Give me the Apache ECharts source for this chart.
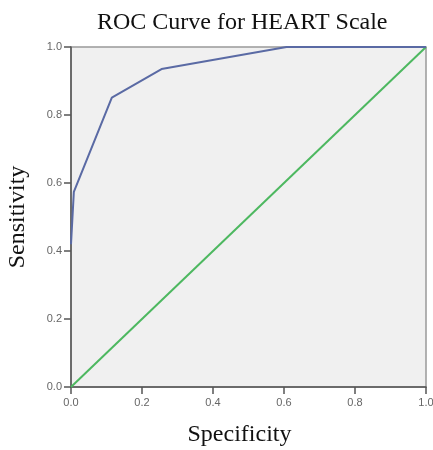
<!DOCTYPE html>
<html>
<head>
<meta charset="utf-8">
<script src="https://cdn.jsdelivr.net/npm/echarts@6/dist/echarts.min.js"></script>
<style>
  html, body { margin: 0; padding: 0; background: #fff; }
  #roc { width: 433px; height: 450px; }
</style>
</head>
<body>
<div id="roc"></div>
<script>
// ROC curve data (1 - specificity on x, sensitivity on y)
var rocX = [0, 0.008, 0.115, 0.255, 0.607, 1.0];
var rocY = [0.42, 0.574, 0.851, 0.935, 1.0, 1.0];
var refX = [0, 1];
var refY = [0, 1];

function pairs(xs, ys) {
	var out = [];
	for (var i = 0; i < xs.length; i++) out.push([xs[i], ys[i]]);
	return out;
}

var myChart = echarts.init(document.getElementById("roc"));

var axisCommon = {
	type : 'value',
	min : 0,
	max : 1,
	interval : 0.2,
	axisLine : { show : true, lineStyle : { color : '#555', width : 1.5 } },
	axisTick : { show : true, length : 7, lineStyle : { color : '#555', width : 1.5 } },
	splitLine : { show : false },
	axisLabel : {
		color : '#666',
		fontSize : 11,
		fontFamily : 'Liberation Sans',
		formatter : function (v) { return v.toFixed(1); }
	},
	nameTextStyle : {
		color : '#111',
		fontSize : 24,
		fontFamily : 'Liberation Serif'
	}
};

var option = {
	title : {
		text : 'ROC Curve for HEART Scale',
		left : 92,
		top : 6,
		textStyle : {
			color : '#111',
			fontSize : 24,
			fontWeight : 'normal',
			fontFamily : 'Liberation Serif'
		}
	},
	grid : {
		left : 71,
		right : 7,
		top : 47,
		bottom : 63,
		outerBoundsMode : 'none',
		show : true,
		backgroundColor : '#f0f0f0',
		borderColor : '#999',
		borderWidth : 1.5
	},
	xAxis : Object.assign({}, axisCommon, {
		name : 'Specificity',
		nameLocation : 'middle',
		nameGap : 36,
		nameTextStyle : Object.assign({}, axisCommon.nameTextStyle, { padding : [0, 18, 0, 0] }),
		axisLabel : Object.assign({}, axisCommon.axisLabel, { margin : 10 })
	}),
	yAxis : Object.assign({}, axisCommon, {
		name : 'Sensitivity',
		nameLocation : 'middle',
		nameGap : 41,
		axisLabel : Object.assign({}, axisCommon.axisLabel, { margin : 9 })
	}),
	series : [ {
		name : 'HEART',
		type : 'line',
		data : pairs(rocX, rocY),
		showSymbol : false,
		lineStyle : { color : '#5a6aa4', width : 2 },
		z : 3
	}, {
		name : 'Reference',
		type : 'line',
		data : pairs(refX, refY),
		showSymbol : false,
		lineStyle : { color : '#4db860', width : 2 },
		z : 2
	} ]
};

myChart.setOption(option);
</script>
</body>
</html>
